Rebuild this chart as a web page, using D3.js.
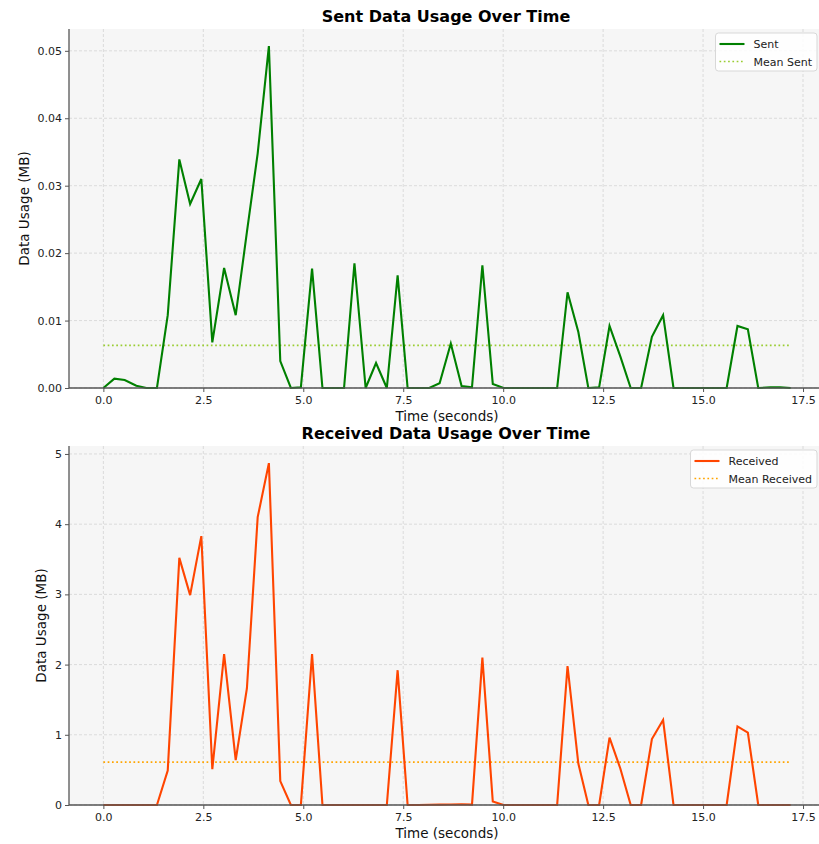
<!DOCTYPE html>
<html>
<head>
<meta charset="utf-8">
<style>
body { margin: 0; background: #fff; }
svg { display: block; font-family: "DejaVu Sans", sans-serif; }
</style>
</head>
<body>
<script src="https://cdn.jsdelivr.net/npm/d3@7"></script>
<script>

// sample times (seconds)
var times = [0, 0.275, 0.533, 0.825, 1.075, 1.34, 1.61, 1.9, 2.17, 2.45,
	2.725, 3.02, 3.31, 3.59, 3.86, 4.14, 4.425, 4.69, 4.94, 5.22,
	5.48, 5.75, 6.02, 6.28, 6.56, 6.82, 7.09, 7.36, 7.61, 7.88,
	8.15, 8.41, 8.69, 8.96, 9.22, 9.48, 9.74, 10.01, 10.27, 10.54,
	10.81, 11.08, 11.35, 11.61, 11.88, 12.13, 12.4, 12.66, 12.93, 13.19,
	13.45, 13.72, 14.0, 14.26, 14.53, 14.79, 15.06, 15.33, 15.59, 15.86,
	16.12, 16.38, 16.68, 16.93, 17.19];

// MB sent per sample
var sent = [0, 0.00138, 0.00119, 0.00034, 0, 0, 0.0108, 0.0339, 0.0273, 0.0310,
	0.00677, 0.0178, 0.0108, 0.0231, 0.0348, 0.0507, 0.0040, 0, 0.0001, 0.0177,
	0, 0, 0, 0.0185, 0, 0.0037, 0, 0.0167, 0, 0,
	0, 0.0007, 0.0066, 0.0003, 0.0001, 0.0182, 0.0006, 0, 0, 0,
	0, 0, 0, 0.0142, 0.0083, 0, 0.0001, 0.0092, 0.0047, 0,
	0, 0.0076, 0.0108, 0, 0, 0, 0, 0, 0, 0.0092,
	0.0087, 0, 0.0001, 0.0001, 0];

// MB received per sample
var received = [0, 0, 0, 0, 0, 0, 0.49, 3.52, 2.99, 3.83,
	0.51, 2.15, 0.64, 1.66, 4.10, 4.87, 0.34, 0, 0, 2.15,
	0, 0, 0, 0, 0, 0, 0, 1.92, 0, 0,
	0.003, 0.005, 0.008, 0.01, 0.006, 2.10, 0.05, 0, 0, 0,
	0, 0, 0, 1.98, 0.59, 0, 0, 0.96, 0.52, 0,
	0, 0.94, 1.21, 0, 0, 0, 0, 0, 0, 1.12,
	1.03, 0, 0, 0, 0];

var xTicks = [0, 2.5, 5, 7.5, 10, 12.5, 15, 17.5];
var sentTicks = [0, 0.01, 0.02, 0.03, 0.04, 0.05];
var recvTicks = [0, 1, 2, 3, 4, 5];

var W = 819, H = 844;

var svg = d3.select("body").append("svg")
	.attr("width", W)
	.attr("height", H);

function panel(opt) {
	var left = 69, right = 825, top = opt.top, bottom = opt.top + 359;

	var tmin = d3.min(times), tmax = d3.max(times);
	var pad = (tmax - tmin) * 0.05;
	var x = d3.scaleLinear().domain([tmin - pad, tmax + pad]).range([left, right]);
	var y = d3.scaleLinear().domain([0, d3.max(opt.values) * 1.05]).range([bottom, top]);

	var g = svg.append("g");

	g.append("rect")
		.attr("x", left).attr("y", top)
		.attr("width", right - left).attr("height", bottom - top)
		.attr("fill", "#f6f6f6");

	// grid
	g.append("g").selectAll("line")
		.data(xTicks)
	      .enter().append("line")
		.attr("x1", d => x(d)).attr("x2", d => x(d))
		.attr("y1", top).attr("y2", bottom)
		.attr("stroke", "#d4d4d4").attr("stroke-width", 0.8)
		.attr("stroke-dasharray", "3,2");

	g.append("g").selectAll("line")
		.data(opt.ticks)
	      .enter().append("line")
		.attr("x1", left).attr("x2", right)
		.attr("y1", d => y(d)).attr("y2", d => y(d))
		.attr("stroke", "#d4d4d4").attr("stroke-width", 0.8)
		.attr("stroke-dasharray", "3,2");

	// mean line
	var m = d3.mean(opt.values);
	g.append("line")
		.attr("x1", x(tmin)).attr("x2", x(tmax))
		.attr("y1", y(m)).attr("y2", y(m))
		.attr("stroke", opt.meanColor).attr("stroke-width", 1.7)
		.attr("stroke-dasharray", "1.7,2.6");

	var line = d3.line()
		.x((d, i) => x(times[i]))
		.y(d => y(d));

	g.append("path")
		.datum(opt.values)
		.attr("fill", "none")
		.attr("stroke", opt.color)
		.attr("stroke-width", 2.1)
		.attr("stroke-linejoin", "miter")
		.attr("d", line);

	// axes
	var xAxis = g.append("g")
		.attr("transform", "translate(0," + bottom + ")")
		.call(d3.axisBottom(x).tickValues(xTicks).tickFormat(d3.format(".1f")).tickSizeOuter(0).tickSize(4).tickPadding(4));

	var yAxis = g.append("g")
		.attr("transform", "translate(" + left + ",0)")
		.call(d3.axisLeft(y).tickValues(opt.ticks).tickFormat(opt.fmt).tickSizeOuter(0).tickSize(4).tickPadding(3));

	[xAxis, yAxis].forEach(a => {
		a.select(".domain").attr("stroke", "#555").attr("stroke-width", 1.3);
		a.selectAll(".tick line").attr("stroke", "#555").attr("stroke-width", 1);
		a.selectAll("text").attr("font-size", 11).attr("fill", "#222")
			.attr("font-family", "DejaVu Sans, sans-serif");
	});
	xAxis.select(".domain").attr("d", "M" + left + ",0H" + right);
	yAxis.select(".domain").attr("d", "M0," + top + "V" + bottom);

	g.append("text")
		.attr("x", (left + 819) / 2 + 2)
		.attr("y", top - 7)
		.attr("text-anchor", "middle")
		.attr("font-size", 16).attr("font-weight", "bold")
		.text(opt.title);

	g.append("text")
		.attr("x", (left + 819) / 2 + 3)
		.attr("y", bottom + 33)
		.attr("text-anchor", "middle")
		.attr("font-size", 13.5)
		.attr("fill", "#111")
		.text("Time (seconds)");

	var yb = yAxis.node().getBBox();
	g.append("text")
		.attr("transform", "translate(" + (left + yb.x - 9) + "," + (top + bottom) / 2 + ") rotate(-90)")
		.attr("text-anchor", "middle")
		.attr("font-size", 13.5)
		.attr("fill", "#111")
		.text("Data Usage (MB)");

	// legend
	var lg = g.append("g");
	var box = lg.append("rect")
		.attr("fill", "#fff").attr("fill-opacity", 0.85)
		.attr("stroke", "#d8d8d8").attr("stroke-width", 1)
		.attr("rx", 3);
	var items = [
		{label: opt.name, color: opt.color, dash: null, w: 2.1},
		{label: "Mean " + opt.name, color: opt.meanColor, dash: "1.7,2.6", w: 1.7}
	];
	var tw = 0;
	items.forEach((it, i) => {
		var cy = 11 + i * 17.5;
		lg.append("line")
			.attr("x1", 4).attr("x2", 29)
			.attr("y1", cy).attr("y2", cy)
			.attr("stroke", it.color).attr("stroke-width", it.w)
			.attr("stroke-dasharray", it.dash);
		var t = lg.append("text")
			.attr("x", 38).attr("y", cy + 4)
			.attr("font-size", 11).attr("fill", "#222")
			.text(it.label);
		tw = Math.max(tw, t.node().getComputedTextLength());
	});
	var bw = 38 + tw + 5;
	box.attr("x", 0).attr("y", 0).attr("width", bw).attr("height", 38);
	lg.attr("transform", "translate(" + (817 - bw) + "," + (top + 4) + ")");
}

panel({top: 29, values: sent, ticks: sentTicks, fmt: d3.format(".2f"),
	color: "green", meanColor: "yellowgreen", name: "Sent",
	title: "Sent Data Usage Over Time"});

panel({top: 446, values: received, ticks: recvTicks, fmt: d3.format("d"),
	color: "orangered", meanColor: "orange", name: "Received",
	title: "Received Data Usage Over Time"});

</script>
</body>
</html>
